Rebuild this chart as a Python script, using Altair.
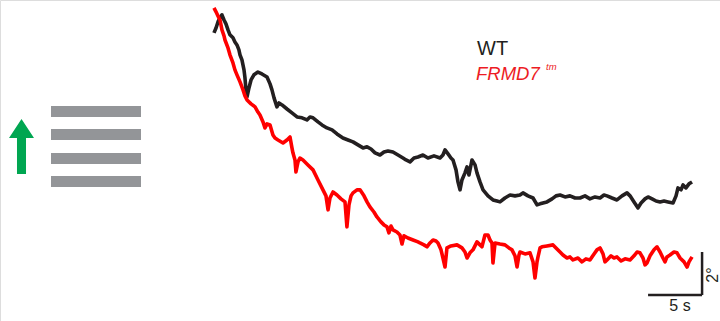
import altair as alt
import pandas as pd

# Eye position traces: time (s) and horizontal angle (deg)
wt_time = [0.00, 0.19, 0.37, 0.56, 0.74, 0.93, 1.11, 1.30, 1.48, 1.76, 1.94, 2.13, 2.31, 2.41, 2.59,
           2.78, 2.87, 2.96, 3.06, 3.24, 3.43, 3.70, 4.07, 4.44, 4.91, 5.19, 5.37, 5.56, 5.83, 6.02,
           6.30, 6.76, 7.22, 7.69, 8.15, 8.61, 8.89, 9.17, 9.63, 10.00, 10.46, 10.93, 11.39, 11.94,
           12.41, 12.87, 13.33, 13.80, 14.17, 14.54, 14.91, 15.37, 15.74, 16.11, 16.57, 17.04, 17.50,
           17.78, 18.15, 18.52, 18.89, 19.35, 19.81, 20.37, 20.93, 21.20, 21.39, 21.67, 21.94, 22.13,
           22.41, 22.59, 22.78, 22.96, 23.24, 23.43, 23.61, 23.89, 24.17, 24.35, 24.63, 24.91, 25.37,
           25.83, 26.20, 26.48, 26.94, 27.41, 27.87, 28.33, 28.61, 29.07, 29.54, 29.91, 30.19, 30.46,
           30.83, 31.30, 31.67, 32.04, 32.50, 32.96, 33.43, 33.89, 34.35, 34.81, 35.28, 35.74, 36.11,
           36.39, 36.85, 37.31, 37.78, 38.24, 38.52, 38.89, 39.26, 39.54, 39.91, 40.19, 40.56, 40.93,
           41.30, 41.67, 42.04, 42.50, 42.78, 42.96, 43.24, 43.43, 43.70, 43.98, 44.26]
wt_angle = [12.42, 12.65, 12.93, 13.12, 13.26, 13.02, 12.84, 12.56, 12.33, 12.19, 12.00, 11.86, 11.63,
            11.40, 11.16, 10.70, 10.33, 9.77, 9.44, 9.86, 10.23, 10.47, 10.60, 10.51, 10.37, 10.05,
            9.77, 9.40, 8.98, 9.16, 9.07, 8.88, 8.70, 8.51, 8.47, 8.37, 8.51, 8.47, 8.28, 8.14, 8.00,
            7.91, 7.72, 7.53, 7.44, 7.35, 7.21, 7.07, 7.12, 7.02, 6.84, 6.74, 6.88, 6.93, 6.88, 6.74,
            6.60, 6.51, 6.42, 6.60, 6.65, 6.74, 6.60, 6.70, 6.60, 6.74, 6.98, 6.79, 6.60, 6.51, 6.05,
            5.49, 5.12, 5.58, 5.91, 6.19, 5.81, 6.51, 6.28, 5.91, 5.49, 5.12, 4.84, 4.65, 4.60, 4.56,
            4.74, 4.88, 4.84, 4.88, 4.98, 4.84, 4.74, 4.42, 4.47, 4.51, 4.56, 4.70, 4.84, 4.88, 4.79,
            4.84, 4.74, 4.74, 4.84, 4.70, 4.79, 4.74, 4.88, 4.84, 4.74, 4.65, 4.84, 4.98, 4.84, 4.56,
            4.28, 4.51, 4.70, 4.79, 4.70, 4.60, 4.56, 4.60, 4.56, 4.51, 4.84, 5.21, 5.12, 5.35, 5.21,
            5.40, 5.49]

tm_time = [0.00, 0.19, 0.37, 0.56, 0.74, 0.93, 1.02, 1.30, 1.48, 1.76, 1.94, 2.13, 2.41, 2.69, 2.87,
           3.06, 3.43, 3.80, 4.07, 4.26, 4.54, 4.72, 4.91, 5.19, 5.46, 5.65, 5.93, 6.39, 6.76, 7.04,
           7.22, 7.31, 7.50, 7.59, 7.78, 7.96, 8.24, 8.70, 9.17, 9.63, 10.09, 10.37, 10.56, 10.74,
           11.02, 11.39, 11.76, 12.13, 12.31, 12.50, 12.69, 12.87, 13.24, 13.52, 13.89, 14.17, 14.44,
           14.81, 15.09, 15.46, 15.74, 16.02, 16.20, 16.39, 16.57, 16.94, 17.22, 17.41, 17.59, 17.96,
           18.43, 18.89, 19.07, 19.44, 19.72, 20.00, 20.28, 20.56, 20.74, 21.02, 21.20, 21.39, 21.57,
           21.94, 22.50, 22.96, 23.24, 23.43, 23.70, 23.98, 24.35, 24.63, 24.81, 25.09, 25.37, 25.56,
           25.74, 25.83, 26.02, 26.48, 26.94, 27.31, 27.59, 27.87, 28.06, 28.24, 28.33, 28.80, 29.26,
           29.54, 29.72, 29.91, 30.00, 30.19, 30.37, 30.83, 31.39, 31.76, 32.04, 32.31, 32.69, 32.96,
           33.24, 33.70, 34.07, 34.44, 34.81, 35.19, 35.46, 35.74, 36.02, 36.20, 36.39, 36.76, 37.04,
           37.31, 37.69, 38.06, 38.52, 38.89, 39.17, 39.44, 39.72, 39.91, 40.09, 40.37, 40.74, 41.02,
           41.30, 41.57, 41.76, 41.94, 42.22, 42.59, 42.87, 43.15, 43.52, 43.80, 43.98, 44.26]
tm_angle = [13.58, 13.40, 13.21, 13.02, 12.56, 12.28, 12.09, 11.72, 11.40, 11.02, 10.70, 10.47, 10.14,
            9.77, 9.49, 9.30, 9.12, 8.98, 8.74, 8.60, 8.28, 8.00, 8.19, 8.14, 7.67, 7.53, 7.44, 7.30,
            7.44, 7.58, 7.07, 6.84, 6.51, 5.95, 6.42, 6.60, 6.51, 6.28, 6.05, 5.58, 5.12, 4.84, 4.19,
            4.74, 5.02, 4.88, 4.70, 4.56, 3.40, 4.42, 4.84, 4.98, 5.12, 5.12, 4.84, 4.56, 4.33, 4.09,
            3.86, 3.63, 3.49, 3.40, 3.12, 3.44, 3.26, 3.16, 3.02, 2.60, 2.98, 2.88, 2.79, 2.70, 2.65,
            2.56, 2.47, 2.65, 2.79, 2.74, 2.65, 2.33, 1.95, 1.53, 2.42, 2.51, 2.56, 2.42, 2.23, 1.95,
            2.19, 2.33, 2.70, 2.56, 2.47, 3.02, 3.02, 2.79, 2.65, 1.72, 2.65, 2.60, 2.56, 2.42, 2.33,
            2.05, 1.53, 2.09, 2.23, 2.14, 2.19, 1.77, 1.02, 1.77, 2.00, 2.42, 2.47, 2.51, 2.56, 2.37,
            2.23, 2.09, 1.95, 2.00, 1.86, 1.95, 1.77, 1.91, 1.86, 2.14, 2.33, 2.42, 2.14, 1.77, 1.86,
            2.05, 1.95, 2.00, 1.81, 1.91, 1.86, 2.05, 2.23, 2.19, 1.95, 1.63, 1.72, 2.05, 2.33, 2.47,
            2.23, 1.95, 1.77, 2.00, 2.09, 2.23, 2.19, 1.95, 1.77, 1.53, 1.77, 2.00]

series_names = ["WT", "FRMD7tm"]
series_colors = ["#231f20", "#ff0000"]

# Scale bar: 5 s by 2 deg, anchored at the lower right
bar_t0, bar_len_s = 40.19, 5.0
bar_a0, bar_len_deg = 0.23, 2.0

traces = pd.concat([
    pd.DataFrame({"t": wt_time, "angle": wt_angle, "series": "WT"}),
    pd.DataFrame({"t": tm_time, "angle": tm_angle, "series": "FRMD7tm"}),
], ignore_index=True)

x_scale = alt.Scale(domain=[-19.81, 46.85], nice=False, zero=False)
y_scale = alt.Scale(domain=[-0.98, 13.95], nice=False, zero=False)

lines = alt.Chart(traces).mark_line(strokeWidth=3.6, strokeJoin="round", interpolate="linear").encode(
    x=alt.X("t:Q", scale=x_scale, axis=None),
    y=alt.Y("angle:Q", scale=y_scale, axis=None),
    color=alt.Color("series:N", scale=alt.Scale(domain=series_names, range=series_colors), legend=None),
    detail="series:N",
)

one = pd.DataFrame({"a": [0]})

bar_h = alt.Chart(one).mark_rule(color="#231f20", strokeWidth=2.5).encode(
    x=alt.datum(bar_t0, scale=x_scale), x2=alt.datum(bar_t0 + bar_len_s),
    y=alt.datum(bar_a0, scale=y_scale),
)
bar_v = alt.Chart(one).mark_rule(color="#231f20", strokeWidth=2.5).encode(
    x=alt.datum(bar_t0 + bar_len_s, scale=x_scale),
    y=alt.datum(bar_a0, scale=y_scale), y2=alt.datum(bar_a0 + bar_len_deg),
)

FONT = "Liberation Sans"

lbl_s = alt.Chart(one).mark_text(text="5 s", font=FONT, fontSize=16, align="center", baseline="middle",
                                 color="#231f20").encode(x=alt.value(680), y=alt.value(306))
lbl_deg = alt.Chart(one).mark_text(text="2°", font=FONT, fontSize=16, align="center", baseline="middle",
                                   angle=270, color="#231f20").encode(x=alt.value(713), y=alt.value(275))

leg_wt = alt.Chart(one).mark_text(text="WT", font=FONT, fontSize=20, align="left", baseline="alphabetic",
                                  color="#231f20").encode(x=alt.value(477), y=alt.value(55))
leg_tm = alt.Chart(one).mark_text(text="FRMD7", font=FONT, fontSize=18.5, fontStyle="italic", align="left",
                                  baseline="alphabetic", color="#ed1c24").encode(x=alt.value(476), y=alt.value(80))
leg_sup = alt.Chart(one).mark_text(text="tm", font=FONT, fontSize=9.5, fontStyle="italic", align="left",
                                   baseline="alphabetic", color="#ed1c24").encode(x=alt.value(546), y=alt.value(70))

# Stimulus icon: grating bars and upward drift arrow
grey = "#939598"
bars = [
    alt.Chart(one).mark_rect(color=grey).encode(
        x=alt.value(51), x2=alt.value(141), y=alt.value(y0), y2=alt.value(y0 + 11))
    for y0 in (106, 129, 153, 176)
]
arrow_path = "M0,-1L0.4545,-0.309L0.164,-0.309L0.164,1L-0.164,1L-0.164,-0.309L-0.4545,-0.309Z"
arrow = alt.Chart(one).mark_point(shape=arrow_path, filled=True, size=3025, opacity=1,
                                  color="#00a651", strokeWidth=0).encode(
    x=alt.value(21.5), y=alt.value(146.5))

chart = alt.layer(
    *bars, arrow, lines, bar_h, bar_v, lbl_s, lbl_deg, leg_wt, leg_tm, leg_sup
).properties(
    width=720, height=321, autosize=alt.AutoSizeParams(type="none"), padding=0,
).configure_view(stroke=None).configure(background="white")

chart.save("out.html", embed_options={"renderer": "svg", "actions": False})
